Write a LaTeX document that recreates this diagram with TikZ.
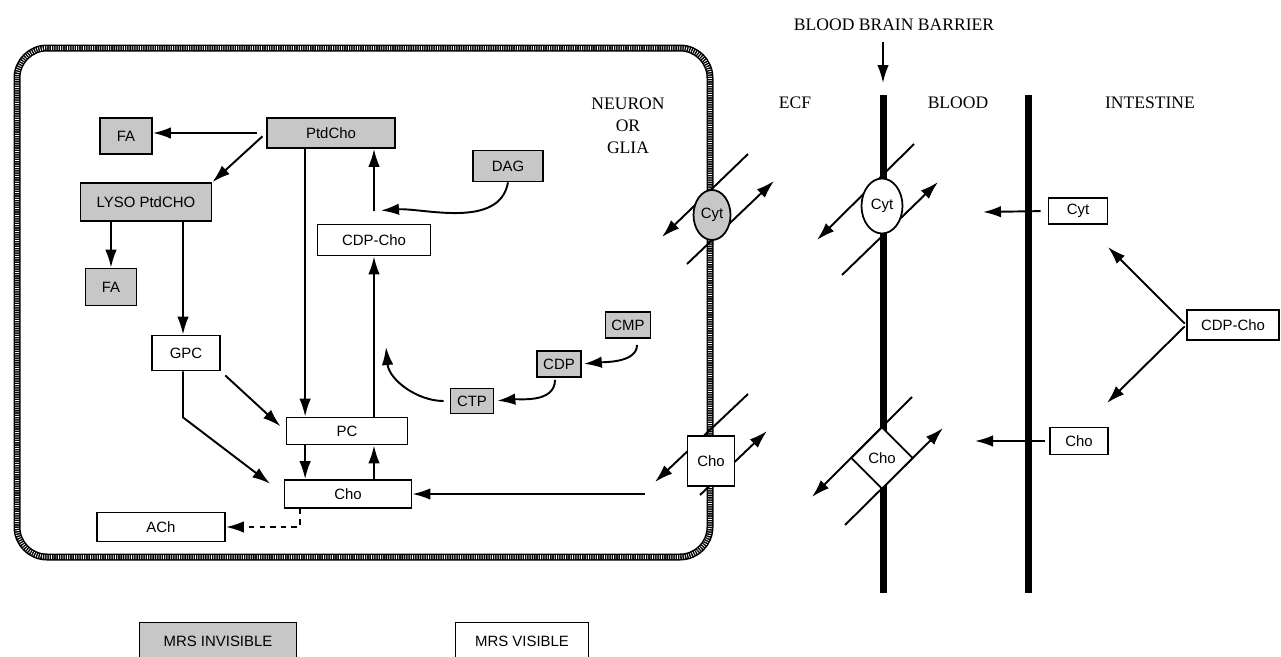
\documentclass[tikz,border=0pt]{standalone}
\usepackage{fontspec}
\setmainfont{Liberation Serif}
\setsansfont{Liberation Sans}
\usepackage{tikz}
\usetikzlibrary{arrows.meta,positioning,calc,shapes.geometric}

\begin{document}
\begin{tikzpicture}[x=0.2mm,y=-0.2mm,
  box/.style={draw,line width=1pt,fill=white,inner sep=0pt,font=\sffamily\fontsize{8.5}{10}\selectfont},
  gbox/.style={box,fill=black!22},
  arr/.style={-{Latex[length=3.6mm,width=2.3mm]},line width=1.1pt},
  lbl/.style={font=\fontsize{10}{12.5}\selectfont,align=center},
  wall/.style={line width=1.4mm},
  rope/.style={line width=1.4mm,postaction={draw=white,line width=0.8mm,dash pattern=on 0.4pt off 0.9pt}}]
\useasboundingbox (0,0) rectangle (1281,656);

% membranes
\draw[rope,rounded corners=6mm] (17,48) rectangle (710,557);
\coordinate (bbbT) at (883,95);
\coordinate (bbbB) at (883,593);
\coordinate (intT) at (1028,95);
\coordinate (intB) at (1028,593);
\draw[wall] (bbbT) -- (bbbB);
\draw[wall] (intT) -- (intB);

% labels
\node[lbl] (bbb) at (894,25) {BLOOD BRAIN BARRIER};
\node[lbl] (neu) at (628,126) {NEURON\\OR\\GLIA};
\node[lbl] (ecf) at (795,103) {ECF};
\node[lbl] (bld) at (958,103) {BLOOD};
\node[lbl] (ints) at (1150,103) {INTESTINE};
\draw[arr,shorten <=1mm,shorten >=2.4mm] (bbb.south -| bbbT) -- (bbbT);

% inside the cell
\node[gbox,minimum width=10.4mm,minimum height=7.2mm] (fa1) at (126,136) {FA};
\node[gbox,minimum width=25.6mm,minimum height=6mm] (ptd) at (331,133) {PtdCho};
\node[gbox,minimum width=26.2mm,minimum height=7.6mm] (lyso) at (146,202) {LYSO PtdCHO};
\node[gbox,minimum width=10.2mm,minimum height=7.4mm] (fa2) at (111,287) {FA};
\node[box,minimum width=22.6mm,minimum height=6.2mm] (cdpc) at (374,240) {CDP-Cho};
\node[gbox,minimum width=14mm,minimum height=6.2mm] (dag) at (508,166) {DAG};
\node[gbox,minimum width=9mm,minimum height=5.2mm] (cmp) at (628,325) {CMP};
\node[gbox,minimum width=8.8mm,minimum height=5.2mm] (cdp) at (559,364) {CDP};
\node[gbox,minimum width=8.6mm,minimum height=5mm] (ctp) at (472,401) {CTP};
\node[box,minimum width=13.6mm,minimum height=7mm] (gpc) at (186,353) {GPC};
\node[box,minimum width=24.2mm,minimum height=5.4mm] (pc) at (347,431) {PC};
\node[box,minimum width=25.4mm,minimum height=5.6mm] (cho) at (348,494) {Cho};
\node[box,minimum width=25.6mm,minimum height=5.8mm] (ach) at (161,527) {ACh};

\coordinate (ptdpc) at ($(ptd.south west)+(39,0)$);
\coordinate (jn) at (cdpc.north |- 0,211);
\coordinate (ctpup) at (386,347);
\coordinate (choin) at (645,494);
\coordinate (dsh) at ($(cho.south west)+(16,0)$);

\draw[arr,shorten <=1.8mm] (ptd.west) -- (ptd.west -| fa1.east);
\draw[arr,shorten <=1mm] (ptd.west) -- (lyso.north east);
\draw[arr] (fa2.north |- lyso.south) -- (fa2.north);
\draw[arr] ([xshift=-0.6mm]gpc.north |- lyso.south) -- ([xshift=-0.6mm]gpc.north);
\draw[arr] (ptdpc) -- (ptdpc |- pc.north);
\draw[arr] (jn) -- (jn |- ptd.south);
\draw[arr,shorten >=1.4mm] (dag.south) to[out=-100,in=4,looseness=0.9] (jn);
\draw[arr] (pc.north -| cdpc.south) -- (cdpc.south);
\draw[arr,shorten <=1.2mm] (ctp.west) to[out=180,in=-85] (ctpup);
\draw[arr,shorten <=0.4mm,shorten >=0.6mm] ([xshift=-0.8mm]cdp.south) to[out=-90,in=5] (ctp.east);
\draw[arr,shorten <=1.2mm,shorten >=0.4mm] ([xshift=1.8mm]cmp.south) to[out=-90,in=5] (cdp.east);
\draw[arr,shorten <=1.2mm,shorten >=1.4mm] (gpc.south east) -- (pc.west);
\draw[arr,shorten >=3.4mm] ([xshift=-0.6mm]gpc.south) -- ++(0,46) -- (cho.west);
\draw[arr] (ptdpc |- pc.south) -- (ptdpc |- cho.north);
\draw[arr] (cho.north -| cdpc.south) -- (pc.south -| cdpc.south);
\draw[arr,dashed] (dsh) -- (dsh |- ach.east) -- (ach.east);
\draw[arr] (choin) -- (cho.east);

% transporters
\coordinate (c1) at (712,215);
\coordinate (c2) at (882,206);
\coordinate (c3) at (711,461);
\coordinate (c4) at (882,458);
\draw[arr] ($(c1)+(36,-61)$) -- ($(c1)+(-50,22)$);
\draw[arr] ($(c1)+(-25,49)$) -- ($(c1)+(62,-34)$);
\draw[arr] ($(c2)+(32,-62)$) -- ($(c2)+(-65,34)$);
\draw[arr] ($(c2)+(-40,69)$) -- ($(c2)+(56,-24)$);
\draw[arr] ($(c3)+(37,-67)$) -- ($(c3)+(-56,21)$);
\draw[arr] ($(c3)+(-11,34)$) -- ($(c3)+(56,-30)$);
\draw[arr] ($(c4)+(30,-61)$) -- ($(c4)+(-70,39)$);
\draw[arr] ($(c4)+(-37,67)$) -- ($(c4)+(61,-30)$);
\node[gbox,ellipse,minimum width=7.4mm,minimum height=10mm] (cyt1) at (c1) {Cyt};
\node[box,ellipse,minimum width=8.2mm,minimum height=11mm] (cyt2) at (c2) {Cyt};
\node[box,minimum width=9.4mm,minimum height=10mm] (cho1) at (c3) {Cho};
\node[box,diamond,minimum width=12.4mm,minimum height=12.4mm] (cho2) at (c4) {Cho};

% intestine side
\node[box,minimum width=11.8mm,minimum height=5.2mm] (cytI) at (1078,211) {Cyt};
\node[box,minimum width=18.4mm,minimum height=6mm] (cdpI) at (1233,325) {CDP-Cho};
\node[box,minimum width=11.6mm,minimum height=5.4mm] (choI) at (1079,441) {Cho};
\coordinate (cytT) at (983,212);
\coordinate (choT) at (975,441);
\coordinate (upT) at (1108,247);
\coordinate (dnT) at (1107,403);
\draw[arr,shorten <=1.4mm] (cytI.west) -- (cytT);
\draw[arr,shorten <=0.8mm] (choI.west) -- (choT);
\draw[arr,shorten <=0.4mm] (cdpI.west) -- (upT);
\draw[arr,shorten <=0.4mm] (cdpI.west) -- (dnT);

% legend
\node[gbox,minimum width=31.4mm,minimum height=7.4mm] (inv) at (218,641) {MRS INVISIBLE};
\node[box,minimum width=26.6mm,minimum height=7.4mm] (vis) at (522,641) {MRS VISIBLE};
\end{tikzpicture}
\end{document}
